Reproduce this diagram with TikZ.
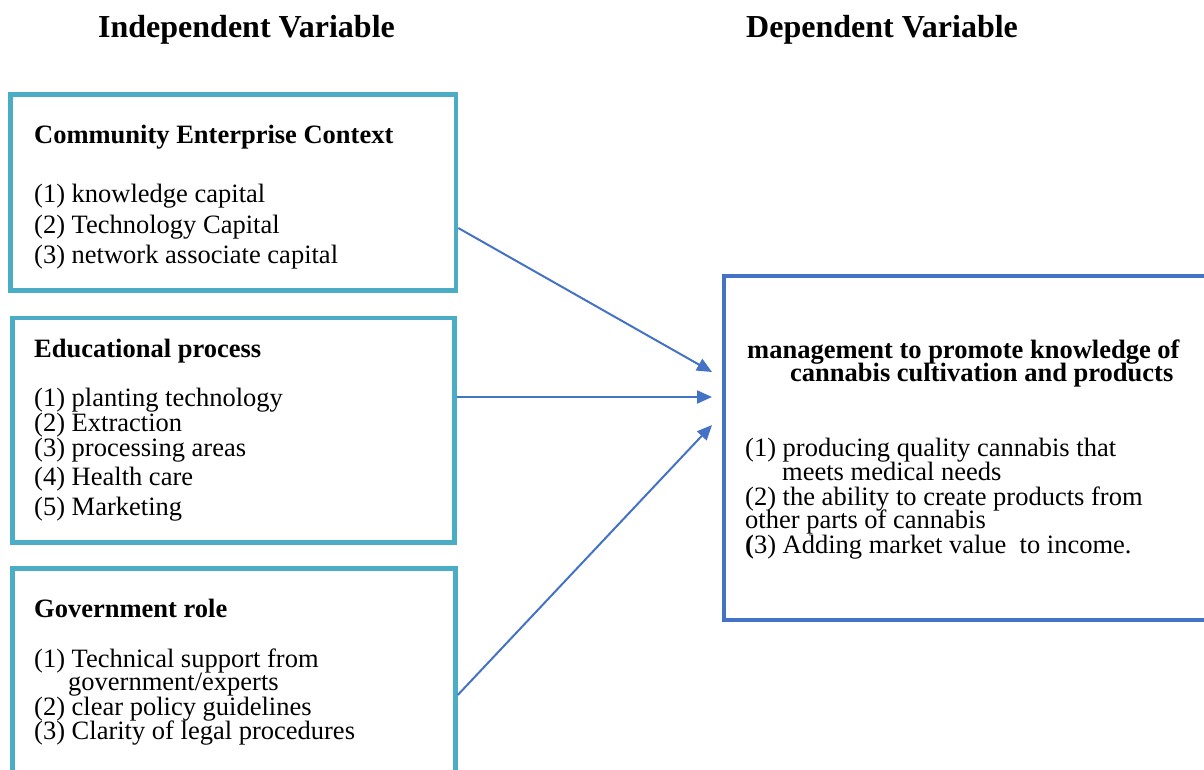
\documentclass[tikz,border=0pt]{standalone}
\usepackage{fontspec}
\setmainfont{Liberation Serif}
\usetikzlibrary{arrows.meta}
\definecolor{tealbox}{HTML}{4BACC6}
\definecolor{bluebox}{HTML}{4472C4}
\begin{document}
\begin{tikzpicture}[x=1pt,y=-1pt,
  lbox/.style={draw=tealbox,line width=4.5pt,inner sep=0pt,rectangle},
  rbox/.style={draw=bluebox,line width=4pt,inner sep=0pt,rectangle},
  txt/.style={anchor=base west,inner sep=0pt,font=\fontsize{26.5}{31}\selectfont},
  hd/.style={txt,font=\fontsize{26.5}{31}\selectfont\bfseries},
  ttl/.style={anchor=base west,inner sep=0pt,font=\fontsize{32}{38}\selectfont\bfseries},
  arr/.style={draw=bluebox,line width=2pt,-{Triangle[length=15pt,width=13pt]}}]
\useasboundingbox (0,0) rectangle (1204,769);
% titles
\node[ttl] (t1) at (98,37) {Independent Variable};
\node[ttl] (t2) at (746,37) {Dependent Variable};
% boxes
\node[lbox,minimum width=445.5pt,minimum height=196pt] (b1) at (233.25,192.5) {};
\node[lbox,minimum width=442pt,minimum height=224.5pt] (b2) at (233.5,430.25) {};
\node[lbox,minimum width=443pt,minimum height=221.5pt] (b3) at (234,679.25) {};
\node[rbox,minimum width=506pt,minimum height=344pt] (rb) at (977,447.5) {};
% box 1 text
\node[hd] (h1) at (34,143) {Community Enterprise Context};
\node[txt] (a1) at (34,202) {(1) knowledge capital};
\node[txt] (a2) at (34,233) {(2) Technology Capital};
\node[txt] (a3) at (34,263.5) {(3) network associate capital};
% box 2 text
\node[hd] (h2) at (34,357.5) {Educational process};
\node[txt] (e1) at (34,406) {(1) planting technology};
\node[txt] (e2) at (34,431) {(2) Extraction};
\node[txt] (e3) at (34,456.5) {(3) processing areas};
\node[txt] (e4) at (34,485.5) {(4) Health care};
\node[txt] (e5) at (34,515) {(5) Marketing};
% box 3 text
\node[hd] (h3) at (34,617) {Government role};
\node[txt] (g1) at (34,667) {(1) Technical support from};
\node[txt] (g1b) at (68,690) {government/experts};
\node[txt] (g2) at (34,715) {(2) clear policy guidelines};
\node[txt] (g3) at (34,739.5) {(3) Clarity of legal procedures};
% right box text
\node[hd] (rh1) at (747,358.5) {management to promote knowledge of};
\node[hd] (rh2) at (790,381.5) {cannabis cultivation and products};
\node[txt] (r1) at (745,456) {(1) producing quality cannabis that};
\node[txt] (r1b) at (782,480) {meets medical needs};
\node[txt] (r2) at (745,505) {(2) the ability to create products from};
\node[txt] (r2b) at (745,528.5) {other parts of cannabis};
\node[txt] (r3) at (745,553.5) {\textbf{(}3) Adding market value\ \ to income.};
% arrows
\draw[arr] ([yshift=-35.5pt]b1.east) -- ([xshift=-10pt,yshift=75.5pt]rb.west);
\draw[arr] ([yshift=33.25pt]b2.east) -- ([xshift=-10pt,yshift=50.5pt]rb.west);
\draw[arr] ([yshift=-15.75pt]b3.east) -- ([xshift=-10pt,yshift=22.5pt]rb.west);
\end{tikzpicture}
\end{document}
